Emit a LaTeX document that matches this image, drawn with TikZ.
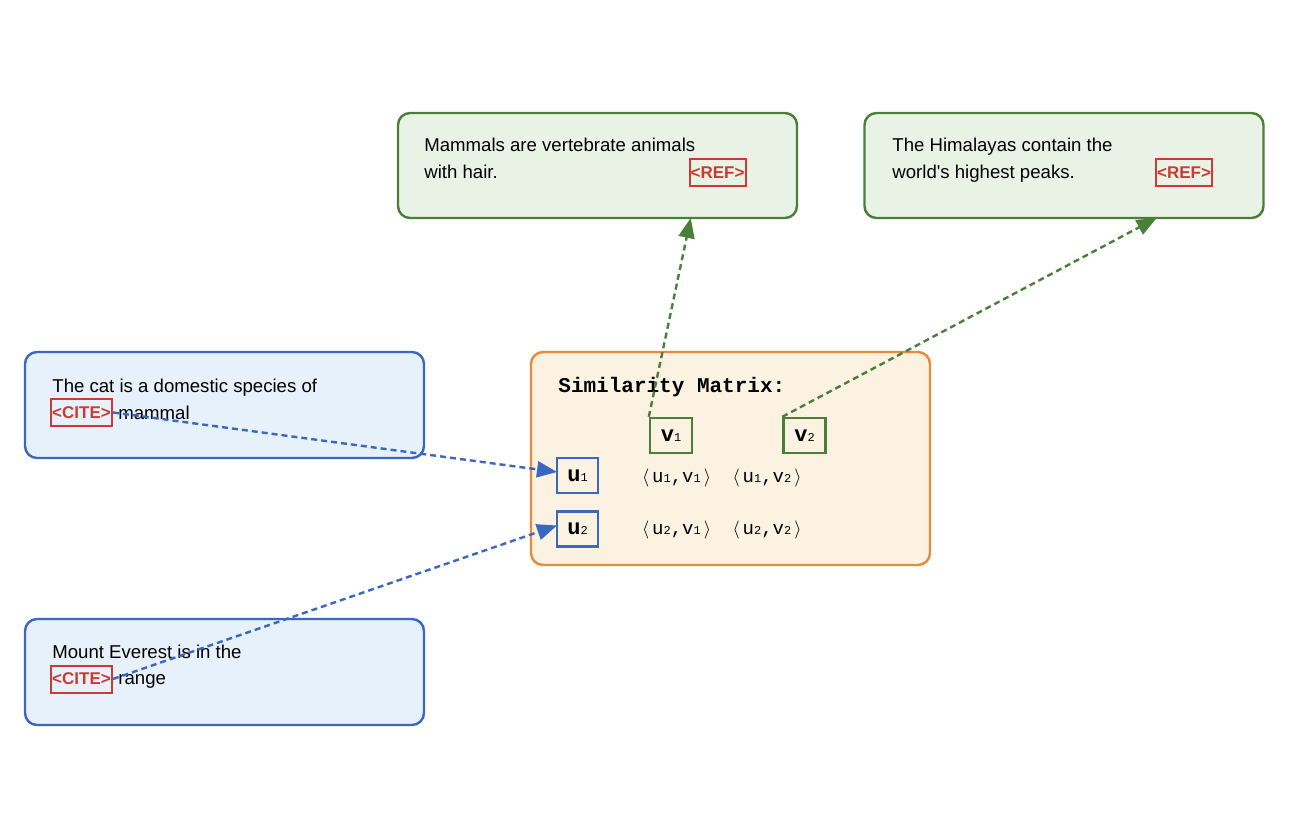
\documentclass[tikz,border=0pt]{standalone}
\usepackage{fontspec}
\setmainfont{Liberation Sans}[Ligatures=TeXOff]
\setmonofont{Liberation Mono}
\usetikzlibrary{arrows.meta}
\definecolor{blueB}{HTML}{3A67C0}
\definecolor{blueF}{HTML}{E6F1FB}
\definecolor{greenB}{HTML}{4A7F3A}
\definecolor{greenF}{HTML}{E8F3E6}
\definecolor{orangeB}{HTML}{E98A3A}
\definecolor{orangeF}{HTML}{FCF2E2}
\definecolor{citeR}{HTML}{CC3B33}
\newcommand\smalldig[1]{{\fontsize{6}{6}\selectfont\mdseries #1}}
\newcommand\celldig[1]{{\fontsize{6}{6}\selectfont #1}}
\newcommand\lang{$\langle$\kern1.5pt}
\newcommand\rang{\kern1.5pt$\rangle$}
\begin{document}
\begin{tikzpicture}[x=0.5pt,y=-0.5pt,
  card/.style={rounded corners=6pt,line width=1.2pt,minimum width=199.5pt,inner sep=0pt},
  srcbox/.style={card,draw=blueB,fill=blueF,minimum height=53pt},
  refbox/.style={card,draw=greenB,fill=greenF,minimum height=52.5pt},
  matbox/.style={card,draw=orangeB,fill=orangeF,minimum height=106.5pt},
  txt/.style={anchor=base west,inner sep=0pt,font=\fontsize{9.3}{11}\selectfont},
  tag/.style={draw=citeR,line width=1pt,text=citeR,inner sep=0pt,minimum height=13.5pt,font=\fontsize{8.5}{10}\selectfont\bfseries},
  ubox/.style={draw=blueB,line width=1.2pt,fill=orangeF,minimum width=20.5pt,minimum height=17.5pt,inner sep=0pt,font=\fontsize{11}{12}\selectfont\ttfamily\bfseries},
  vbox/.style={draw=greenB,line width=1.2pt,fill=orangeF,minimum width=21pt,minimum height=17.5pt,inner sep=0pt,font=\fontsize{11}{12}\selectfont\ttfamily\bfseries},
  cell/.style={inner sep=0pt,font=\fontsize{9.5}{10}\selectfont\ttfamily},
  bluearrow/.style={draw=blueB,line width=1.2pt,dash pattern=on 3pt off 2pt,-{Triangle[length=10pt,width=8pt]}},
  greenarrow/.style={draw=greenB,line width=1.2pt,dash pattern=on 3pt off 2pt,-{Triangle[length=10pt,width=8pt]}}
]
\useasboundingbox (0,0) rectangle (1296,824);

% top reference boxes
\node[refbox] (r1) at (597.5,165.5) {};
\node[txt] (r1a) at (424,152) {Mammals are vertebrate animals};
\node[txt] (r1b) at (424,178) {with hair.};
\node[tag,minimum width=28pt] (ref1) at (717.5,172.5) {<REF>};

\node[refbox] (r2) at (1064,165.5) {};
\node[txt] (r2a) at (892,152) {The Himalayas contain the};
\node[txt] (r2b) at (892,178) {world's highest peaks.};
\node[tag,minimum width=28pt] (ref2) at (1184,172.5) {<REF>};

% left source boxes
\node[srcbox] (s1) at (224.5,405) {};
\node[txt] (s1a) at (52,392) {The cat is a domestic species of};
\node[tag,minimum width=30.5pt] (cite1) at (81.5,412.5) {<CITE>};
\node[txt] (s1b) at (118,419) {mammal};

\node[srcbox] (s2) at (224.5,672) {};
\node[txt] (s2a) at (52,658) {Mount Everest is in the};
\node[tag,minimum width=30.5pt] (cite2) at (81.5,679) {<CITE>};
\node[txt] (s2b) at (118,684) {range};

% similarity matrix
\node[matbox] (m) at (730.5,458.5) {};
\node[anchor=base west,inner sep=0pt,font=\fontsize{10.5}{12}\selectfont\ttfamily\bfseries] (title) at (558,392) {Similarity Matrix:};
\node[vbox] (v1) at (671,435.5) {v\smalldig{1}};
\node[vbox] (v2) at (804.5,435.5) {v\smalldig{2}};
\node[ubox] (u1) at (577.5,475.5) {u\smalldig{1}};
\node[ubox] (u2) at (577.5,529) {u\smalldig{2}};
\node[cell] (c11) at (676.5,478) {\lang u\celldig{1},v\celldig{1}\rang};
\node[cell] (c12) at (767,478) {\lang u\celldig{1},v\celldig{2}\rang};
\node[cell] (c21) at (676.5,530) {\lang u\celldig{2},v\celldig{1}\rang};
\node[cell] (c22) at (767,530) {\lang u\celldig{2},v\celldig{2}\rang};

% arrow targets
\coordinate (t1) at (690.7,218);
\coordinate (t2) at (1156.7,218);
\coordinate (tu1) at (557,472);
\coordinate (tu2) at (557,525.5);

\draw[bluearrow] (cite1.east) -- (tu1);
\draw[bluearrow] (cite2.east) -- (tu2);
\draw[greenarrow] (v1.north west) -- (t1);
\draw[greenarrow] (v2.north west) -- (t2);
\end{tikzpicture}
\end{document}
